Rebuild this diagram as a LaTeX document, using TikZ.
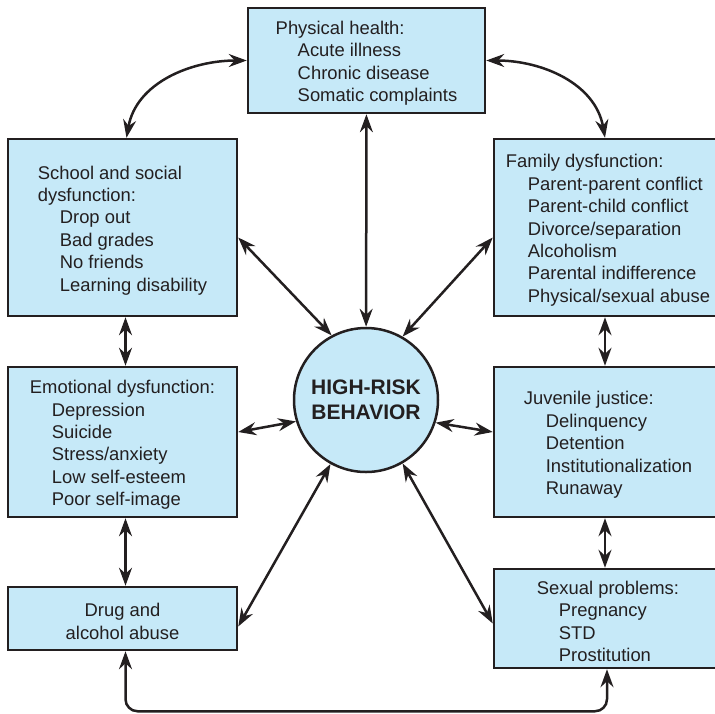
\documentclass[tikz,border=0pt]{standalone}
\usepackage{fontspec}
\setmainfont{Liberation Sans}
\usetikzlibrary{arrows.meta}

\definecolor{boxfill}{HTML}{C6E9F8}
\definecolor{ink}{HTML}{231F20}

\newcommand{\itm}{\hspace*{22pt}}
\newcommand{\lead}{\rule{0pt}{19pt}}

\begin{document}
\begin{tikzpicture}[x=1pt, y=-1pt,
    factor/.style={draw=ink, line width=2.5pt, fill=boxfill, text=ink,
        align=left, inner sep=0pt, font=\fontsize{18.4}{22.4}\selectfont},
    core/.style={circle, draw=ink, line width=2.5pt, fill=boxfill, text=ink,
        minimum size=144pt, inner sep=0pt, align=center,
        font=\fontsize{21}{25}\selectfont\bfseries},
    link/.style={draw=ink, line width=2.5pt,
        {Stealth[length=18pt,width=13pt,inset=6pt]}-{Stealth[length=18pt,width=13pt,inset=6pt]}}]

\useasboundingbox (0,0) rectangle (715,713);

% Centre
\node[core] (risk) at (366,400) {HIGH-RISK\\BEHAVIOR};

% Top
\node[factor, minimum width=237pt, minimum height=105pt] (phys) at (366.5,60.5)
    {\lead Physical health:\\\itm Acute illness\\\itm Chronic disease\\\itm Somatic complaints};

% Left column
\node[factor, minimum width=229pt, minimum height=177pt] (school) at (122.5,227.5)
    {\lead School and social\\dysfunction:\\\itm Drop out\\\itm Bad grades\\\itm No friends\\\itm Learning disability};
\node[factor, minimum width=229pt, minimum height=150pt] (emot) at (122.5,442)
    {\lead Emotional dysfunction:\\\itm Depression\\\itm Suicide\\\itm Stress/anxiety\\\itm Low self-esteem\\\itm Poor self-image};
\node[factor, minimum width=229pt, minimum height=63pt, align=center] (drug) at (122.5,618.5)
    {\lead Drug and\\alcohol abuse};

% Right column
\node[factor, minimum width=228pt, minimum height=177pt] (family) at (608,227.5)
    {\lead Family dysfunction:\\\itm Parent-parent conflict\\\itm Parent-child conflict\\\itm Divorce/separation\\\itm Alcoholism\\\itm Parental indifference\\\itm Physical/sexual abuse};
\node[factor, minimum width=228pt, minimum height=150pt] (juv) at (608,442)
    {\lead Juvenile justice:\\\itm Delinquency\\\itm Detention\\\itm Institutionalization\\\itm Runaway};
\node[factor, minimum width=228pt, minimum height=99pt] (sex) at (608,618.5)
    {\lead Sexual problems:\\\itm Pregnancy\\\itm STD\\\itm Prostitution};

% Links to the centre
\draw[link] (phys) -- (risk);
\draw[link] ([yshift=-10pt]school.east) -- (risk.118);
\draw[link] ([yshift=-10pt]family.west) -- (risk.60);
\draw[link] ([yshift=10pt]emot.east) -- (risk.197);
\draw[link] ([yshift=10pt]juv.west) -- (risk.342);
\draw[link] ([yshift=-8pt]drug.east) -- (risk.241);
\draw[link] ([yshift=-5pt]sex.west) -- (risk.300);

% Links around the ring
\draw[link] ([xshift=4pt]school.north) to[out=80, in=180] (phys.west);
\draw[link] ([xshift=-3pt]family.north) to[out=100, in=0] (phys.east);
\draw[link] ([xshift=3pt]school.south) -- ([xshift=3pt]emot.north);
\draw[link] ([xshift=3pt]emot.south) -- ([xshift=3pt]drug.north);
\draw[link] ([xshift=-3pt]family.south) -- ([xshift=-3pt]juv.north);
\draw[link] ([xshift=-3pt]juv.south) -- ([xshift=-3pt]sex.north);
\draw[link, rounded corners=12pt] ([xshift=3pt]drug.south) -- ++(0,60) -| ([xshift=-1pt]sex.south);

\end{tikzpicture}
\end{document}
